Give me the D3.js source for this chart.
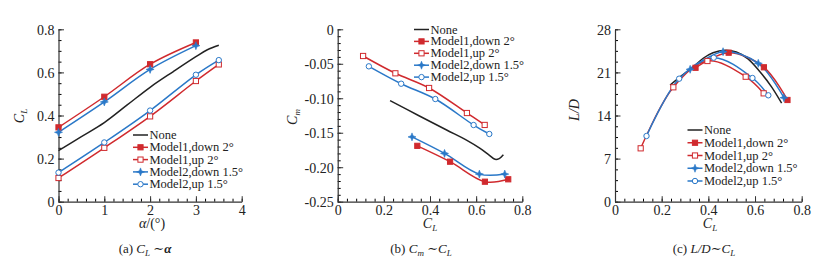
<!DOCTYPE html>
<html>
<head>
<meta charset="utf-8">
<script src="https://cdn.jsdelivr.net/npm/d3@7"></script>
<style>
  body { margin: 0; background: #fff; }
  svg { display: block; }
  svg text { font-family: "Liberation Serif", "DejaVu Serif", "Times New Roman", serif !important; fill: #222; }
</style>
</head>
<body>
<script>
// series names
const seriesNames = ["None", "Model1,down 2°", "Model1,up 2°", "Model2,down 1.5°", "Model2,up 1.5°"];

// angle of attack
const alpha4 = [0, 1, 2, 3];
const alpha5 = [0, 1, 2, 3, 3.5];

// lift coefficient of each configuration (x of panels b, c; y of panel a)
const m1DownCL = [0.345, 0.487, 0.638, 0.739];
const m1UpCL = [0.110, 0.250, 0.396, 0.560, 0.637];
const m2DownCL = [0.322, 0.463, 0.614, 0.724];
const m2UpCL = [0.135, 0.275, 0.423, 0.589, 0.657];

// baseline (no flap) curves, no markers
const noneAlpha = [0, 0.5, 1, 1.5, 2, 2.5, 3, 3.25, 3.5];
const noneCL = [0.237, 0.302, 0.367, 0.449, 0.531, 0.603, 0.673, 0.705, 0.726];
const noneCmCL = [0.227, 0.35, 0.472, 0.56, 0.617, 0.655, 0.682, 0.70, 0.718];
const noneCm = [-0.1035, -0.125, -0.146, -0.161, -0.1726, -0.182, -0.1885, -0.1875, -0.182];
const noneLDCL = [0.236, 0.29, 0.335, 0.378, 0.42, 0.471, 0.52, 0.57, 0.621, 0.67, 0.714];
const noneLD = [18.95, 20.6, 21.9, 23.3, 24.2, 24.6, 24.3, 23.2, 21.1, 18.7, 16.0];

// pitching moment
const m1DownCm = [-0.169, -0.192, -0.221, -0.2175];
const m1UpCm = [-0.0387, -0.0638, -0.0851, -0.1214, -0.1387];
const m2DownCm = [-0.156, -0.180, -0.210, -0.210];
const m2UpCm = [-0.0537, -0.0789, -0.1011, -0.1388, -0.1518];

// lift to drag ratio
const m1DownLD = [21.75, 24.2, 21.83, 16.52];
const m1UpLD = [8.67, 18.58, 22.85, 20.3, 17.6];
const m2DownLD = [21.5, 24.36, 22.47, 16.89];
const m2UpLD = [10.67, 19.98, 23.39, 20.09, 17.28];

// tick values / labels
const alphaTicks = [0, 1, 2, 3, 4];
const clTicks = [0, 0.2, 0.4, 0.6, 0.8];
const clTickLabels = ["0", "0.2", "0.4", "0.6", "0.8"];
const cmTicks = [0, -0.05, -0.10, -0.15, -0.20, -0.25];
const cmTickLabels = ["0", "-0.05", "-0.10", "-0.15", "-0.20", "-0.25"];
const ldTicks = [0, 7, 14, 21, 28];

const red = "#d02a2e", blue = "#2a78c8", black = "#222";
const styles = [
  { color: black, marker: null },
  { color: red, marker: "sqFill" },
  { color: red, marker: "sqOpen" },
  { color: blue, marker: "star" },
  { color: blue, marker: "circOpen" }
];

const svg = d3.select("body").append("svg")
  .attr("width", 818).attr("height", 263);

function drawMarker(g, type, color, x, y) {
  if (type === "sqFill" || type === "sqOpen") {
    g.append("rect")
      .attr("x", x - 2.6).attr("y", y - 2.6)
      .attr("width", 5.2).attr("height", 5.2)
      .attr("fill", type === "sqFill" ? color : "#fff")
      .attr("stroke", color).attr("stroke-width", 1);
  } else if (type === "star") {
    g.append("path")
      .attr("d", "M0,-4L1.1,-1.1L4,0L1.1,1.1L0,4L-1.1,1.1L-4,0L-1.1,-1.1Z")
      .attr("transform", `translate(${x},${y})`)
      .attr("fill", color).attr("stroke", color).attr("stroke-width", 0.6);
  } else if (type === "circOpen") {
    g.append("circle")
      .attr("cx", x).attr("cy", y).attr("r", 2.7)
      .attr("fill", "#fff").attr("stroke", color).attr("stroke-width", 1);
  }
}

function range(a, b, step) {
  const out = [];
  const n = Math.round((b - a) / step);
  for (let i = 0; i <= n; i++) out.push(+(a + i * step).toFixed(6));
  return out;
}

function panel(cfg) {
  const g = svg.append("g");
  const x = d3.scaleLinear().domain(cfg.xDomain).range([cfg.left, cfg.right]);
  const y = d3.scaleLinear().domain(cfg.yDomain).range([201.7, 29.3]);

  // minor ticks
  g.append("g")
    .attr("transform", "translate(0,201.7)")
    .call(d3.axisBottom(x).tickValues(cfg.xMinor).tickSize(-3).tickSizeOuter(0).tickFormat(""))
    .call(a => a.select(".domain").remove());
  g.append("g")
    .attr("transform", `translate(${cfg.left},0)`)
    .call(d3.axisLeft(y).tickValues(cfg.yMinor).tickSize(-3).tickSizeOuter(0).tickFormat(""))
    .call(a => a.select(".domain").remove());

  // major axes
  const xa = g.append("g")
    .attr("transform", "translate(0,201.7)")
    .call(d3.axisBottom(x).tickValues(cfg.xTicks).tickSize(-5.5).tickSizeOuter(0)
      .tickPadding(3).tickFormat((d, i) => cfg.xLabels[i]));
  const ya = g.append("g")
    .attr("transform", `translate(${cfg.left},0)`)
    .call(d3.axisLeft(y).tickValues(cfg.yTicks).tickSize(-5.5).tickSizeOuter(0)
      .tickPadding(4).tickFormat((d, i) => cfg.yLabels[i]));
  [xa, ya].forEach(a => {
    a.attr("font-family", null);
    a.selectAll("text").style("font-size", "14px").attr("fill", "#333");
    a.selectAll("line").attr("stroke", "#333");
    a.select(".domain").attr("stroke", "#333").attr("stroke-width", 1.2);
  });
  ya.selectAll(".tick text").attr("dy", "0.36em");

  // curves
  const line = d3.line().x(d => x(d[0])).y(d => y(d[1])).curve(d3.curveCatmullRom.alpha(0.5));
  cfg.series.forEach((s, i) => {
    const pts = s.xs.map((v, j) => [v, s.ys[j]]);
    g.append("path").datum(pts)
      .attr("d", line).attr("fill", "none")
      .attr("stroke", styles[i].color).attr("stroke-width", 1.5);
  });
  cfg.series.forEach((s, i) => {
    if (!styles[i].marker) return;
    s.xs.forEach((v, j) => drawMarker(g, styles[i].marker, styles[i].color, x(v), y(s.ys[j])));
  });

  // legend
  seriesNames.forEach((name, i) => {
    const ly = cfg.legend.y + i * cfg.legend.step;
    g.append("line")
      .attr("x1", cfg.legend.x).attr("x2", cfg.legend.x + 15)
      .attr("y1", ly).attr("y2", ly)
      .attr("stroke", styles[i].color).attr("stroke-width", 1.5);
    if (styles[i].marker) drawMarker(g, styles[i].marker, styles[i].color, cfg.legend.x + 7.5, ly);
    g.append("text")
      .attr("x", cfg.legend.x + 16.5).attr("y", ly + 4)
      .style("font-size", "12.5px")
      .text(name);
  });

  // axis titles
  cfg.xTitle(g.append("text").attr("x", cfg.xTitleX).attr("y", 227.5)
    .attr("text-anchor", "middle").style("font-size", "14px"));
  cfg.yTitle(g.append("text")
    .attr("transform", `translate(${cfg.yTitleX},${cfg.yTitleY}) rotate(-90)`)
    .attr("text-anchor", "middle").style("font-size", "14px"));

  // caption
  const cap = g.append("text").attr("x", cfg.capX).attr("y", 252.5)
    .attr("text-anchor", "middle").style("font-size", "13px");
  cfg.caption(cap);
}

function cl(t, sub) {
  t.append("tspan").style("font-style", "italic").text("C");
  t.append("tspan").style("font-style", "italic").style("font-size", "9px").attr("dy", 3).text(sub || "L");
  return t;
}

panel({
  left: 58.5, right: 241.7,
  xDomain: [0, 4], yDomain: [0, 0.8],
  xTicks: alphaTicks, xLabels: alphaTicks.map(String),
  yTicks: clTicks, yLabels: clTickLabels,
  xMinor: range(0, 4, 0.2), yMinor: range(0, 0.8, 0.05),
  series: [
    { xs: noneAlpha, ys: noneCL },
    { xs: alpha4, ys: m1DownCL },
    { xs: alpha5, ys: m1UpCL },
    { xs: alpha4, ys: m2DownCL },
    { xs: alpha5, ys: m2UpCL }
  ],
  legend: { x: 133, y: 135, step: 12.3 },
  xTitleX: 152,
  xTitle: t => { t.append("tspan").style("font-style", "italic").text("α"); t.append("tspan").text("/(°)"); },
  yTitleX: 24, yTitleY: 116,
  yTitle: t => cl(t),
  capX: 145,
  caption: t => {
    t.append("tspan").text("(a)  ");
    cl(t);
    t.append("tspan").attr("dy", -3).text(" ∼");
    t.append("tspan").style("font-style", "italic").style("font-weight", "bold").text("α");
  }
});

panel({
  left: 337.7, right: 522.3,
  xDomain: [0, 0.8], yDomain: [-0.25, 0],
  xTicks: clTicks, xLabels: clTickLabels,
  yTicks: cmTicks, yLabels: cmTickLabels,
  xMinor: range(0, 0.8, 0.04), yMinor: range(-0.25, 0, 0.01),
  series: [
    { xs: noneCmCL, ys: noneCm },
    { xs: m1DownCL, ys: m1DownCm },
    { xs: m1UpCL, ys: m1UpCm },
    { xs: m2DownCL, ys: m2DownCm },
    { xs: m2UpCL, ys: m2UpCm }
  ],
  legend: { x: 414, y: 29.5, step: 11.9 },
  xTitleX: 430,
  xTitle: t => cl(t),
  yTitleX: 297, yTitleY: 117,
  yTitle: t => cl(t, "m"),
  capX: 421,
  caption: t => {
    t.append("tspan").text("(b)  ");
    cl(t, "m");
    t.append("tspan").attr("dy", -3).text(" ∼");
    cl(t);
  }
});

panel({
  left: 615, right: 801.7,
  xDomain: [0, 0.8], yDomain: [0, 28],
  xTicks: clTicks, xLabels: clTickLabels,
  yTicks: ldTicks, yLabels: ldTicks.map(String),
  xMinor: range(0, 0.8, 0.04), yMinor: range(0, 28, 1.75),
  series: [
    { xs: noneLDCL, ys: noneLD },
    { xs: m1DownCL, ys: m1DownLD },
    { xs: m1UpCL, ys: m1UpLD },
    { xs: m2DownCL, ys: m2DownLD },
    { xs: m2UpCL, ys: m2UpLD }
  ],
  legend: { x: 687.5, y: 130, step: 12.75 },
  xTitleX: 710,
  xTitle: t => cl(t),
  yTitleX: 579, yTitleY: 110,
  yTitle: t => t.append("tspan").style("font-style", "italic").text("L/D"),
  capX: 704,
  caption: t => {
    t.append("tspan").text("(c)  ");
    t.append("tspan").style("font-style", "italic").text("L/D");
    t.append("tspan").text("∼");
    cl(t);
  }
});
</script>
</body>
</html>
